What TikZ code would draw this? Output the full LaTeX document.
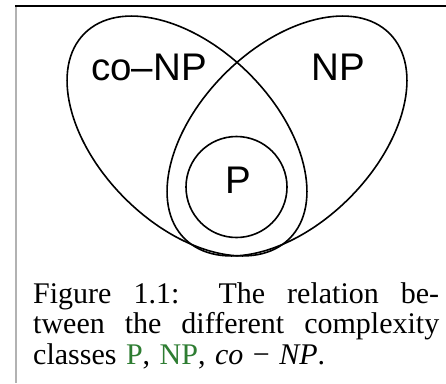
\documentclass[tikz,border=0pt]{standalone}
\usepackage{fontspec}
\setmainfont{Liberation Serif}
\newfontfamily\lsans{Liberation Sans}
\definecolor{linkgreen}{RGB}{46,125,50}
\begin{document}
\begin{tikzpicture}[x=1pt,y=-1pt,
  setline/.style={line width=1.6pt},
  setlabel/.style={font=\lsans\fontsize{38.5}{40}\selectfont, inner sep=0pt},
  captext/.style={font=\fontsize{30}{31}\selectfont, inner sep=0pt, anchor=base west}]
\useasboundingbox (0,0) rectangle (446,383);
\fill[white] (0,0) rectangle (446,383);
% frame
\draw[gray!60, line width=2pt] (16,6) -- (16,383);
\draw[line width=1.2pt] (15,6) -- (446,6);
% co-NP and NP sets
\draw[setline, rotate around={-45:(187,136)}] (187,136) ellipse [x radius=145, y radius=88];
\draw[setline, rotate around={45:(287,136)}] (287,136) ellipse [x radius=145, y radius=88];
% P circle
\node[circle, draw, setline, minimum size=101pt, inner sep=0pt] (pc) at (236.5,187) {};
% labels
\node[setlabel, anchor=base west] (conp) at (91,80) {co–NP};
\node[setlabel, anchor=base west] (np) at (311,80) {NP};
\node[setlabel, anchor=base] (pl) at (238,193.3) {P};
% caption
\node[captext] (cap1) at (33,303) {\makebox[406pt][s]{Figure 1.1: The relation be-}};
\node[captext] (cap2) at (33,333.5) {\makebox[406pt][s]{tween the different complexity}};
\node[captext] (cap3) at (33,364) {\makebox[292pt][s]{classes \textcolor{linkgreen}{P}, \textcolor{linkgreen}{NP}, \textit{co} − \textit{NP}.}};
\end{tikzpicture}
\end{document}
